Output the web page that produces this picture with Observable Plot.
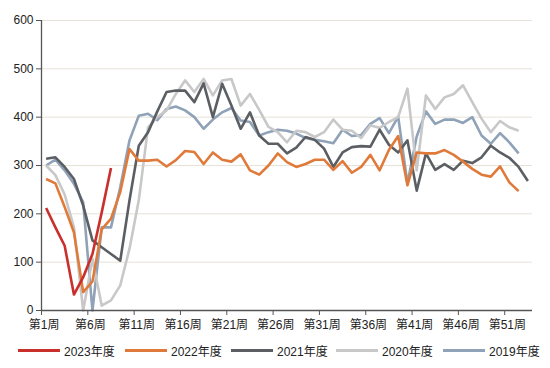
<!DOCTYPE html>
<html>
<head>
<meta charset="utf-8">
<script src="https://cdn.jsdelivr.net/npm/d3@7"></script>
<script src="https://cdn.jsdelivr.net/npm/@observablehq/plot@0.6"></script>
<style>
  html, body { margin: 0; padding: 0; background: #fff; }
  body { width: 550px; height: 368px; overflow: hidden; font-family: "Liberation Sans", Arial, "Noto Sans CJK SC", sans-serif; }
  #legend { position: relative; height: 30px; font-size: 12px; color: #222; }
  .item { position: absolute; top: 6px; display: flex; align-items: center; height: 16px; }
  .sw { width: 42px; height: 3px; margin-right: 4px; }
</style>
</head>
<body>
<div id="chart"></div>
<div id="legend"></div>
<script>
// Categories
const seriesNames = ["2023年度", "2022年度", "2021年度", "2020年度", "2019年度"];
const seriesColors = ["#c9302c", "#e07a3a", "#5b5f64", "#c8c8c8", "#8fa2b7"];
const tickWeeks = [1, 6, 11, 16, 21, 26, 31, 36, 41, 46, 51];
const tickLabels = ["第1周", "第6周", "第11周", "第16周", "第21周", "第26周", "第31周", "第36周", "第41周", "第46周", "第51周"];
const yTicks = [0, 100, 200, 300, 400, 500, 600];

// Series values by week (week 1 onward)
const s2023 = [212, 172, 134, 33, 69, 117, 203, 295];
const s2022 = [272, 263, 214, 162, 38, 60, 168, 190, 245, 334,
               310, 310, 312, 298, 311, 330, 328, 303, 327, 312,
               308, 323, 290, 281, 300, 325, 307, 297, 303, 312,
               312, 291, 309, 285, 297, 322, 290, 332, 361, 259,
               327, 325, 325, 332, 322, 308, 293, 281, 277, 298,
               265, 247];
const s2021 = [314, 317, 297, 272, 217, 145, 131, 117, 103, 228,
               341, 369, 412, 452, 455, 455, 431, 470, 400, 469,
               424, 376, 410, 362, 345, 345, 325, 337, 359, 353,
               335, 297, 327, 338, 340, 339, 374, 343, 327, 352,
               248, 325, 291, 303, 291, 310, 305, 317, 341, 327,
               316, 297, 268];
const s2020 = [300, 280, 240, 172, 0, 107, 10, 21, 52, 128,
               228, 379, 400, 414, 448, 476, 452, 479, 445, 476,
               479, 424, 448, 415, 380, 369, 348, 372, 369, 359,
               369, 395, 374, 372, 357, 383, 378, 390, 400, 459,
               290, 445, 417, 441, 448, 466, 431, 397, 369, 392,
               379, 372];
const s2019 = [300, 312, 290, 262, 224, 0, 172, 172, 255, 352,
               403, 407, 394, 417, 422, 414, 400, 376, 395, 410,
               419, 393, 390, 362, 369, 374, 372, 366, 357, 353,
               350, 346, 374, 361, 363, 386, 398, 367, 401, 263,
               360, 412, 386, 395, 395, 388, 400, 362, 345, 367,
               348, 325];

const seriesValues = [s2023, s2022, s2021, s2020, s2019];
const rows = [];
// draw order: 2019 first, 2023 last (on top)
for (let k = seriesNames.length - 1; k >= 0; k--) {
  seriesValues[k].forEach((v, i) => rows.push({series: seriesNames[k], week: i + 1, value: v}));
}
const boundaries = tickWeeks.map(w => w - 0.5);

const chart = Plot.plot({
  width: 550,
  height: 336,
  marginLeft: 41,
  marginRight: 18,
  marginTop: 20,
  marginBottom: 26,
  style: {fontFamily: '"Liberation Sans", Arial, "Noto Sans CJK SC", sans-serif', fontSize: "12px", color: "#222", background: "#fff"},
  x: {domain: [0.5, 53.5], axis: null},
  y: {domain: [0, 600], axis: null},
  color: {domain: seriesNames, range: seriesColors},
  marks: [
    Plot.gridY(yTicks.filter(d => d > 0), {stroke: "#e6e2d8", strokeOpacity: 1, strokeWidth: 1}),
    Plot.lineY(rows, {x: "week", y: "value", z: "series", stroke: "series", strokeWidth: 2.6, strokeLinejoin: "round", strokeLinecap: "butt"}),
    Plot.axisY({ticks: yTicks, tickSize: 5, tickPadding: 3, tickFormat: d => String(d), stroke: "#555", label: null, fontSize: 12}),
    Plot.ruleX([0.5], {stroke: "#555", strokeWidth: 1.3}),
    Plot.axisX({ticks: boundaries, tickSize: 5, tickFormat: () => "", stroke: "#555", label: null}),
    Plot.axisX({ticks: tickWeeks, tickSize: 0, tickPadding: 10, tickFormat: (d, i) => tickLabels[tickWeeks.indexOf(d)], dx: -2, label: null, fontSize: 12}),
    Plot.ruleY([0], {stroke: "#555", strokeWidth: 1.3})
  ]
});
document.getElementById("chart").appendChild(chart);

// Legend
const legend = document.getElementById("legend");
const lefts = [18, 125, 231, 336, 443];
seriesNames.forEach((name, i) => {
  const item = document.createElement("div");
  item.className = "item";
  item.style.left = lefts[i] + "px";
  const sw = document.createElement("span");
  sw.className = "sw";
  sw.style.background = seriesColors[i];
  const tx = document.createElement("span");
  tx.textContent = name;
  item.appendChild(sw);
  item.appendChild(tx);
  legend.appendChild(item);
});
</script>
</body>
</html>
